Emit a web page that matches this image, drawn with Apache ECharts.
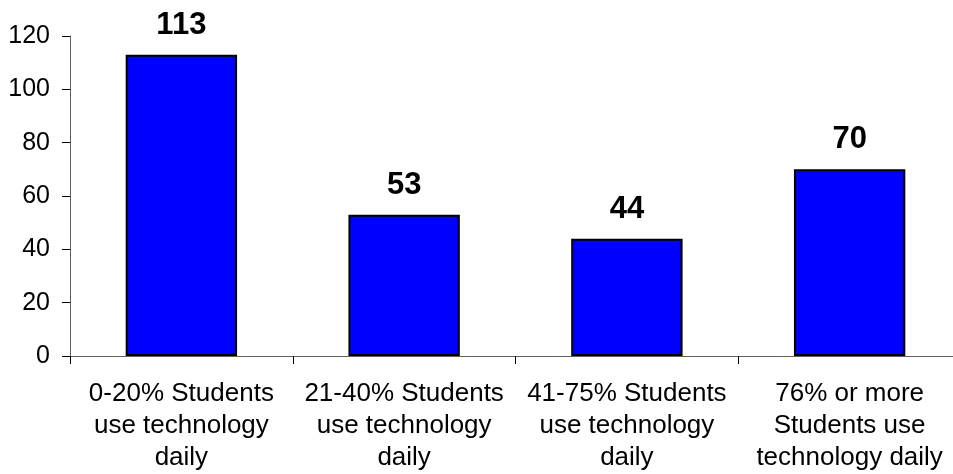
<!DOCTYPE html>
<html>
<head>
<meta charset="utf-8">
<script src="https://cdn.jsdelivr.net/npm/echarts@6/dist/echarts.min.js"></script>
<style>html,body{margin:0;padding:0;background:#fff;overflow:hidden;}#c{width:961px;height:474px;}</style>
</head>
<body>
<div id="c"></div>
<script>
var categories = [
  "0-20% Students\nuse technology\ndaily",
  "21-40% Students\nuse technology\ndaily",
  "41-75% Students\nuse technology\ndaily",
  "76% or more\nStudents use\ntechnology daily"
];
var values = [113, 53, 44, 70];
var yTicks = { min: 0, max: 120, interval: 20 };

var chart = echarts.init(document.getElementById('c'));
chart.setOption({
  animation: false,
  backgroundColor: '#ffffff',
  grid: { left: 70, right: 0, top: 36, bottom: 116, containLabel: false },
  xAxis: {
    type: 'category',
    data: categories,
    axisLine: { lineStyle: { color: '#606060', width: 1 } },
    axisTick: { show: true, length: 8, lineStyle: { color: '#000' } },
    axisLabel: {
      interval: 0, color: '#000', fontFamily: 'Liberation Sans, Arial, sans-serif',
      fontSize: 26, lineHeight: 32, margin: 22
    }
  },
  yAxis: {
    type: 'value',
    min: yTicks.min, max: yTicks.max, interval: yTicks.interval,
    axisLine: { show: true, lineStyle: { color: '#606060', width: 1 } },
    axisTick: { show: true, length: 8, lineStyle: { color: '#000' } },
    splitLine: { show: false },
    axisLabel: { color: '#000', fontFamily: 'Liberation Sans, Arial, sans-serif', fontSize: 25, margin: 20 }
  },
  series: [{
    type: 'bar',
    data: values,
    barWidth: '50%',
    itemStyle: { color: '#0000FF', borderColor: '#000', borderWidth: 2 },
    label: {
      show: true, position: 'top', distance: 14, color: '#000',
      fontFamily: 'Liberation Sans, Arial, sans-serif', fontWeight: 'bold', fontSize: 31
    }
  }]
});
</script>
</body>
</html>
